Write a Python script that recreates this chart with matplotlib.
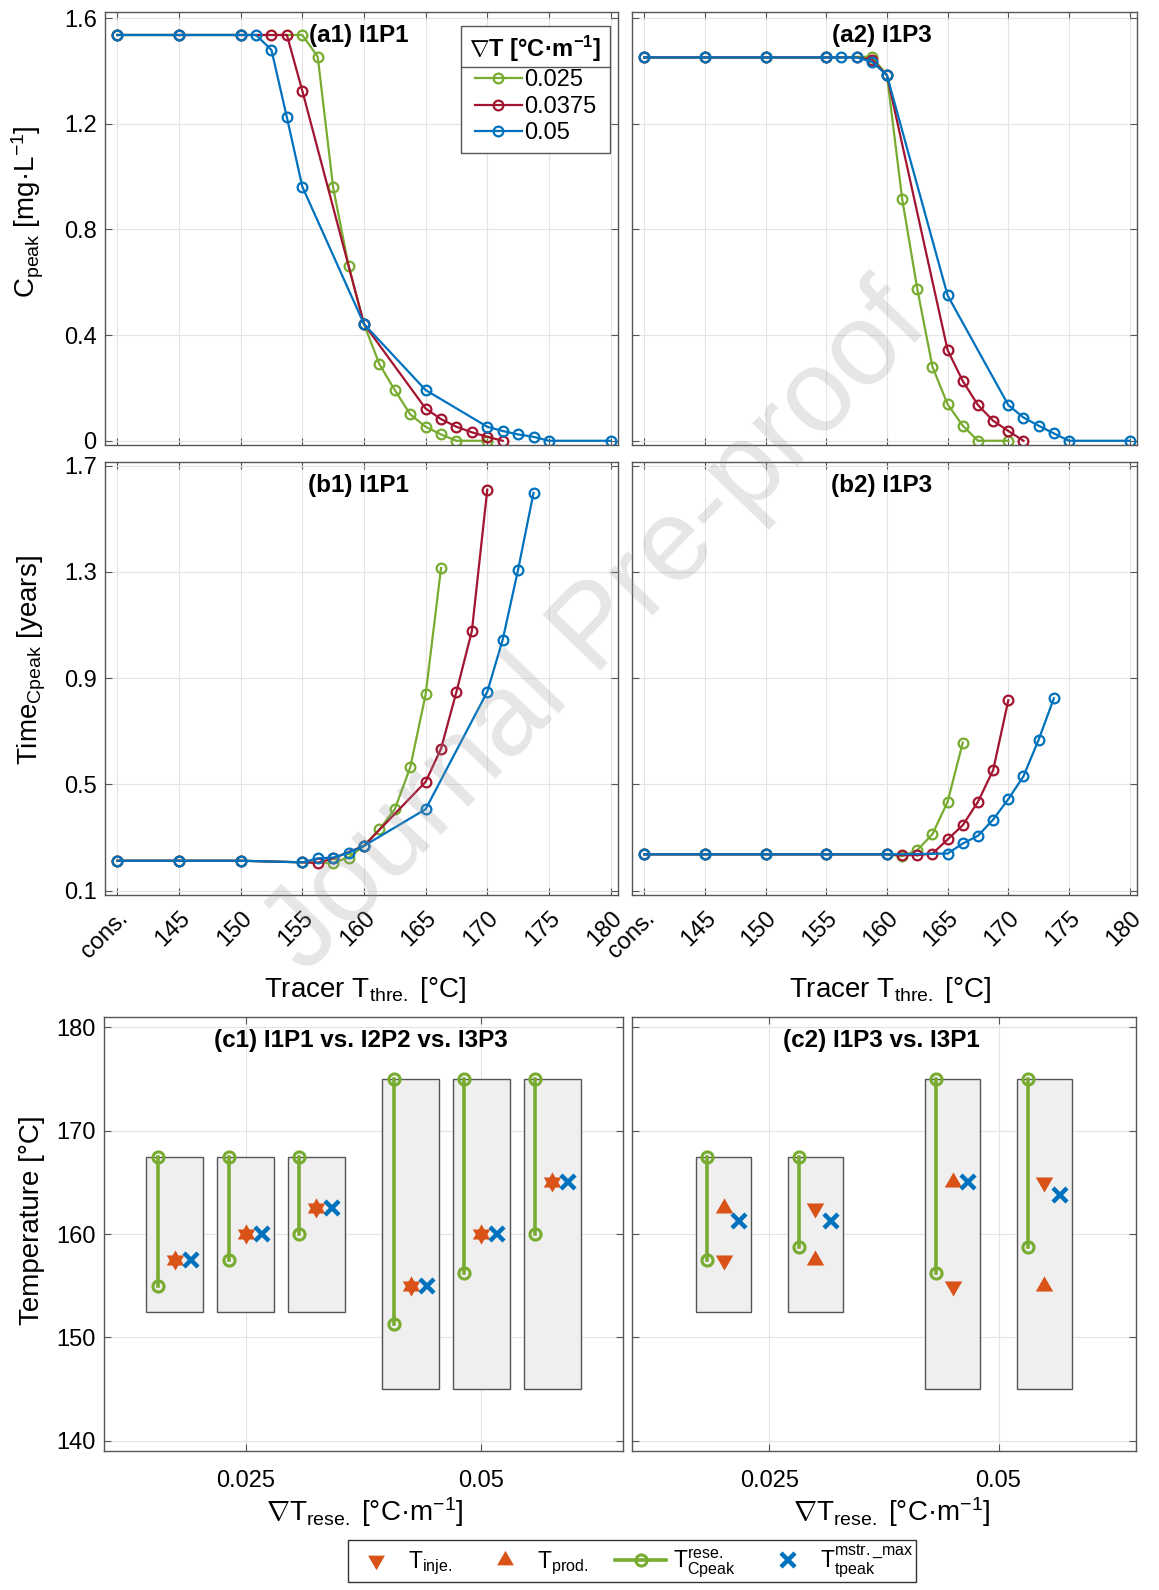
import matplotlib
matplotlib.use('Agg')
import matplotlib.pyplot as plt
from matplotlib.patches import Rectangle
from matplotlib.lines import Line2D
from matplotlib.path import Path

plt.rcParams['font.family'] = ['Liberation Sans', 'DejaVu Sans']
plt.rcParams['mathtext.fontset'] = 'custom'
plt.rcParams['mathtext.rm'] = 'Liberation Sans'
plt.rcParams['mathtext.it'] = 'Liberation Sans:italic'
plt.rcParams['mathtext.bf'] = 'Liberation Sans:bold'

# ---- data ----
tick_pos = [140, 145, 150, 155, 160, 165, 170, 175, 180]
tick_lbl = ['cons.', '145', '150', '155', '160', '165', '170', '175', '180']
grad_labels = ['0.025', '0.0375', '0.05']

# (a1) I1P1, C_peak
a1_x_g = [140, 145, 150, 155, 156.25, 157.5, 158.75, 160, 161.25, 162.5, 163.75, 165, 166.25, 167.5, 170]
a1_y_g = [1.536, 1.536, 1.536, 1.536, 1.454, 0.959, 0.662, 0.442, 0.290, 0.192, 0.100, 0.053, 0.024, 0, 0]
a1_x_r = [140, 145, 150, 152.5, 153.75, 155, 160, 165, 166.25, 167.5, 168.75, 170, 171.25]
a1_y_r = [1.536, 1.536, 1.536, 1.536, 1.536, 1.325, 0.442, 0.122, 0.082, 0.053, 0.032, 0.015, 0]
a1_x_b = [140, 145, 150, 151.25, 152.5, 153.75, 155, 160, 165, 170, 171.25, 172.5, 173.75, 175, 180]
a1_y_b = [1.536, 1.536, 1.536, 1.536, 1.479, 1.224, 0.962, 0.442, 0.192, 0.053, 0.037, 0.024, 0.015, 0, 0]

# (a2) I1P3, C_peak
a2_x_g = [140, 145, 150, 155, 158.75, 160, 161.25, 162.5, 163.75, 165, 166.25, 167.5, 170]
a2_y_g = [1.451, 1.451, 1.451, 1.451, 1.454, 1.384, 0.917, 0.575, 0.280, 0.138, 0.057, 0, 0]
a2_x_r = [140, 145, 150, 155, 157.5, 158.75, 160, 165, 166.25, 167.5, 168.75, 170, 171.25]
a2_y_r = [1.451, 1.451, 1.451, 1.451, 1.451, 1.443, 1.384, 0.343, 0.226, 0.135, 0.076, 0.037, 0]
a2_x_b = [140, 145, 150, 155, 156.25, 157.5, 158.75, 160, 165, 170, 171.25, 172.5, 173.75, 175, 180]
a2_y_b = [1.451, 1.451, 1.451, 1.451, 1.451, 1.451, 1.435, 1.384, 0.550, 0.135, 0.088, 0.057, 0.028, 0, 0]

# (b1) I1P1, time of C_peak
b1_x_g = [140, 145, 150, 155, 157.5, 158.75, 160, 161.25, 162.5, 163.75, 165, 166.25]
b1_y_g = [0.213, 0.213, 0.213, 0.207, 0.205, 0.225, 0.269, 0.331, 0.407, 0.564, 0.839, 1.315]
b1_x_r = [140, 145, 150, 155, 156.25, 157.5, 160, 165, 166.25, 167.5, 168.75, 170]
b1_y_r = [0.213, 0.213, 0.213, 0.207, 0.205, 0.222, 0.269, 0.510, 0.635, 0.849, 1.078, 1.610]
b1_x_b = [140, 145, 150, 155, 156.25, 157.5, 158.75, 160, 165, 170, 171.25, 172.5, 173.75]
b1_y_b = [0.213, 0.213, 0.213, 0.207, 0.222, 0.225, 0.243, 0.269, 0.407, 0.849, 1.045, 1.309, 1.598]

# (b2) I1P3, time of C_peak
b2_x_g = [140, 145, 150, 155, 160, 161.25, 162.5, 163.75, 165, 166.25]
b2_y_g = [0.237, 0.237, 0.237, 0.237, 0.237, 0.230, 0.253, 0.313, 0.435, 0.658]
b2_x_r = [140, 145, 150, 155, 160, 161.25, 162.5, 163.75, 165, 166.25, 167.5, 168.75, 170]
b2_y_r = [0.237, 0.237, 0.237, 0.237, 0.237, 0.234, 0.234, 0.240, 0.293, 0.347, 0.435, 0.554, 0.817]
b2_x_b = [140, 145, 150, 155, 160, 165, 166.25, 167.5, 168.75, 170, 171.25, 172.5, 173.75]
b2_y_b = [0.237, 0.237, 0.237, 0.237, 0.237, 0.240, 0.278, 0.307, 0.368, 0.445, 0.531, 0.669, 0.824]

# (c1) I1P1 vs. I2P2 vs. I3P3
c1_grad = [0.0175, 0.025, 0.0325, 0.0425, 0.05, 0.0575]
c1_box_lo = [152.5, 152.5, 152.5, 145, 145, 145]
c1_box_hi = [167.5, 167.5, 167.5, 175, 175, 175]
c1_cpk_lo = [155, 157.5, 160, 151.25, 156.25, 160]
c1_cpk_hi = [167.5, 167.5, 167.5, 175, 175, 175]
c1_inje = [157.5, 160, 162.5, 155, 160, 165]
c1_prod = [157.5, 160, 162.5, 155, 160, 165]
c1_tpeak = [157.5, 160, 162.5, 155, 160, 165]

# (c2) I1P3 vs. I3P1
c2_grad = [0.02, 0.03, 0.045, 0.055]
c2_box_lo = [152.5, 152.5, 145, 145]
c2_box_hi = [167.5, 167.5, 175, 175]
c2_cpk_lo = [157.5, 158.75, 156.25, 158.75]
c2_cpk_hi = [167.5, 167.5, 175, 175]
c2_inje = [157.5, 162.5, 155, 165]
c2_prod = [162.5, 157.5, 165, 155]
c2_tpeak = [161.25, 161.25, 165, 163.75]

# ---- style ----
GREEN, RED, BLUE, ORANGE = '#77AC30', '#A2142F', '#0072BD', '#D95319'
line_colors = [GREEN, RED, BLUE]
SPINE = '#555555'
W, H = 1159, 1590
TRI_UP = Path([(0, 1), (-0.866, -0.5), (0.866, -0.5), (0, 1)], closed=True)
TRI_DN = Path([(0, -1), (-0.866, 0.5), (0.866, 0.5), (0, -1)], closed=True)

fig = plt.figure(figsize=(W / 100, H / 100), dpi=100)


def make_ax(x0, x1, y0, y1):
    # pixel box -> figure fractions
    return fig.add_axes([x0 / W, 1 - y1 / H, (x1 - x0) / W, (y1 - y0) / H])


def style(ax):
    ax.grid(True, color='#e4e4e4', lw=0.8)
    ax.set_axisbelow(True)
    for s in ax.spines.values():
        s.set_color(SPINE)
        s.set_linewidth(1.0)
    ax.tick_params(direction='in', top=True, right=True, length=5, width=0.8,
                   color=SPINE, labelsize=17, pad=6)


def title(ax, txt):
    ax.text(0.495, 0.972, txt, transform=ax.transAxes, ha='center', va='top',
            fontsize=17.5, fontweight='bold', zorder=10)


ax_a1 = make_ax(105, 618, 12, 445)
ax_a2 = make_ax(632, 1137, 12, 445)
ax_b1 = make_ax(105, 618, 462, 895)
ax_b2 = make_ax(632, 1137, 462, 895)
ax_c1 = make_ax(104, 623, 1017, 1451)
ax_c2 = make_ax(632, 1136, 1017, 1451)

series = {
    ax_a1: [(a1_x_g, a1_y_g), (a1_x_r, a1_y_r), (a1_x_b, a1_y_b)],
    ax_a2: [(a2_x_g, a2_y_g), (a2_x_r, a2_y_r), (a2_x_b, a2_y_b)],
    ax_b1: [(b1_x_g, b1_y_g), (b1_x_r, b1_y_r), (b1_x_b, b1_y_b)],
    ax_b2: [(b2_x_g, b2_y_g), (b2_x_r, b2_y_r), (b2_x_b, b2_y_b)],
}
for ax, data in series.items():
    style(ax)
    for (xs, ys), col, lab in zip(data, line_colors, grad_labels):
        ax.plot(xs, ys, '-o', color=col, lw=1.6, ms=7, mfc='none', mew=1.6, label=lab)
    ax.set_xlim(139, 180.6)
    ax.set_xticks(tick_pos)

for ax in (ax_a1, ax_a2):
    ax.set_ylim(-0.016, 1.623)
    ax.set_yticks([0, 0.4, 0.8, 1.2, 1.6])
    ax.set_yticklabels(['0', '0.4', '0.8', '1.2', '1.6'])
    ax.set_xticklabels([])
for ax in (ax_b1, ax_b2):
    ax.set_ylim(0.084, 1.714)
    ax.set_yticks([0.1, 0.5, 0.9, 1.3, 1.7])
    ax.set_yticklabels(['0.1', '0.5', '0.9', '1.3', '1.7'])
    ax.set_xticklabels(tick_lbl, rotation=45, ha='right', rotation_mode='anchor')
    ax.tick_params(axis='x', pad=9)
for ax in (ax_a2, ax_b2, ax_c2):
    ax.set_yticklabels([])

title(ax_a1, '(a1) I1P1')
title(ax_a2, '(a2) I1P3')
title(ax_b1, '(b1) I1P1')
title(ax_b2, '(b2) I1P3')

leg = ax_a1.legend(loc='upper right', bbox_to_anchor=(0.984, 0.968), fontsize=17,
                   title=r'$\nabla$T [°C·m$^{\mathbf{-1}}$]',
                   title_fontproperties={'weight': 'bold', 'size': 17},
                   frameon=True, fancybox=False, framealpha=1, edgecolor=SPINE,
                   handlelength=2.0, handletextpad=0.1, borderpad=0.35,
                   labelspacing=0.2, borderaxespad=0)
leg.get_frame().set_linewidth(1.0)


def temps(ax, grad, box_lo, box_hi, cpk_lo, cpk_hi, inje, prod, tpeak):
    style(ax)
    for g, lo, hi in zip(grad, box_lo, box_hi):
        ax.add_patch(Rectangle((g - 0.003, lo), 0.006, hi - lo, facecolor='#efefef',
                               edgecolor=SPINE, lw=1.0, zorder=2))
    for g, lo, hi in zip(grad, cpk_lo, cpk_hi):
        ax.plot([g - 0.0018, g - 0.0018], [lo, hi], '-o', color=GREEN, lw=2.6,
                ms=8, mfc='none', mew=2.2, zorder=4)
    ax.plot(grad, inje, ls='none', marker=TRI_DN, ms=14.5, color=ORANGE, mec='none', zorder=5)
    ax.plot(grad, prod, ls='none', marker=TRI_UP, ms=14.5, color=ORANGE, mec='none', zorder=5)
    ax.plot([g + 0.0017 for g in grad], tpeak, ls='none', marker='x', ms=9.5, mew=3.2,
            color=BLUE, zorder=5)
    ax.set_xlim(0.01, 0.065)
    ax.set_ylim(139, 181)
    ax.set_xticks([0.025, 0.05])
    ax.set_xticklabels(['0.025', '0.05'])
    ax.set_yticks([140, 150, 160, 170, 180])
    ax.tick_params(axis='x', pad=14)


temps(ax_c1, c1_grad, c1_box_lo, c1_box_hi, c1_cpk_lo, c1_cpk_hi, c1_inje, c1_prod, c1_tpeak)
temps(ax_c2, c2_grad, c2_box_lo, c2_box_hi, c2_cpk_lo, c2_cpk_hi, c2_inje, c2_prod, c2_tpeak)
ax_c2.set_yticklabels([])
title(ax_c1, '(c1) I1P1 vs. I2P2 vs. I3P3')
title(ax_c2, '(c2) I1P3 vs. I3P1')

# axis labels
lab_kw = dict(fontsize=20, ha='center', va='center')
fig.text(28 / W, 1 - 212 / H, r'C$_\mathregular{peak}$ [mg·L$^\mathregular{-1}$]', rotation=90, **lab_kw)
fig.text(32 / W, 1 - 660 / H, r'Time$_\mathregular{Cpeak}$ [years]', rotation=90, **lab_kw)
fig.text(32 / W, 1 - 1220 / H, 'Temperature [°C]', rotation=90, **lab_kw)
fig.text(365 / W, 1 - 990 / H, r'Tracer T$_\mathregular{thre.}$ [°C]', **lab_kw)
fig.text(890 / W, 1 - 990 / H, r'Tracer T$_\mathregular{thre.}$ [°C]', **lab_kw)
fig.text(365 / W, 1 - 1512 / H, r'$\nabla$T$_\mathregular{rese.}$ [°C·m$^\mathregular{-1}$]', **lab_kw)
fig.text(892 / W, 1 - 1512 / H, r'$\nabla$T$_\mathregular{rese.}$ [°C·m$^\mathregular{-1}$]', **lab_kw)

# bottom legend
handles = [
    Line2D([], [], ls='none', marker=TRI_DN, ms=14, color=ORANGE, mec='none'),
    Line2D([], [], ls='none', marker=TRI_UP, ms=14, color=ORANGE, mec='none'),
    Line2D([], [], color=GREEN, lw=2.6, marker='o', ms=8, mfc='none', mew=2.2),
    Line2D([], [], ls='none', marker='x', ms=9.5, mew=3.2, color=BLUE),
]
labels = [r'T$_\mathregular{inje.}$', r'T$_\mathregular{prod.}$',
          r'T$^\mathregular{rese.}_\mathregular{Cpeak}$',
          r'T$^\mathregular{mstr.\_max}_\mathregular{tpeak}$']
bleg = fig.legend(handles, labels, loc='upper center', bbox_to_anchor=(632 / W, 1 - 1540 / H),
                  ncol=4, fontsize=16.5, frameon=True, fancybox=False, framealpha=1,
                  edgecolor='#333333', handlelength=2.2, handletextpad=0.3,
                  columnspacing=1.2, borderpad=0.12, borderaxespad=0)
bleg.get_frame().set_linewidth(1.0)

# watermark
fig.text(597 / W, 1 - 630 / H, 'Journal Pre-proof', rotation=46, fontsize=84,
         color='#9a9a9a', alpha=0.25, ha='center', va='center', zorder=20)

# separator under the legend title
fig.canvas.draw()
fb = leg.get_frame().get_window_extent()
tb = leg.get_title().get_window_extent()
inv = fig.transFigure.inverted()
p0 = inv.transform((fb.x0, tb.y0 - 3))
p1 = inv.transform((fb.x1, tb.y0 - 3))
fig.add_artist(Line2D([p0[0], p1[0]], [p0[1], p1[1]], transform=fig.transFigure,
                      color=SPINE, lw=1.0))

fig.savefig('out.png', dpi=100)
